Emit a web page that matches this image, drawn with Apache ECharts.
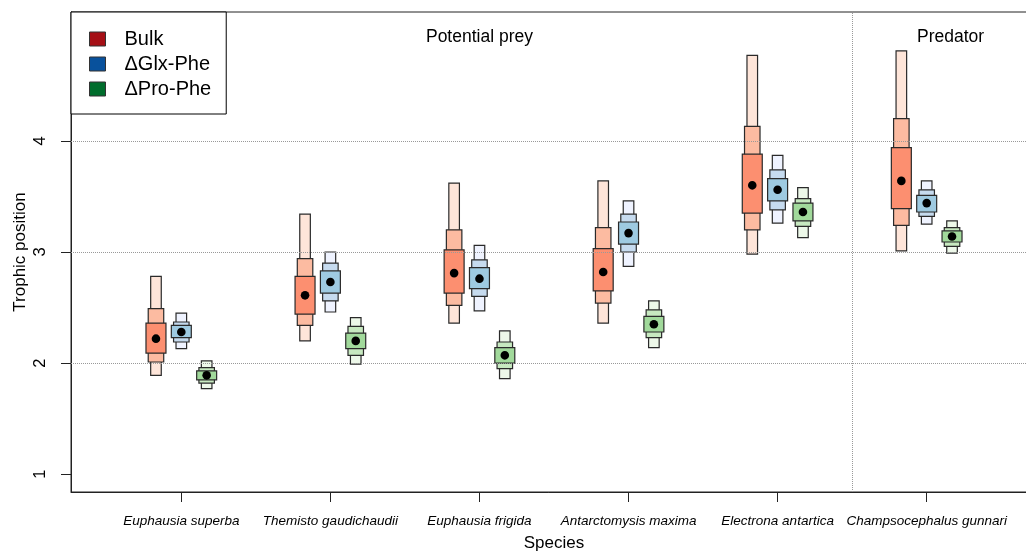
<!DOCTYPE html>
<html>
<head>
<meta charset="utf-8">
<script src="https://cdn.jsdelivr.net/npm/echarts@6/dist/echarts.min.js"></script>
<style>
  html, body { margin: 0; padding: 0; background: #fff; }
  #chart { width: 1026px; height: 552px; }
</style>
</head>
<body>
<div id="chart"></div>
<script>
// ---------------- data ----------------
const species = ['Euphausia superba', 'Themisto gaudichaudii', 'Euphausia frigida',
                 'Antarctomysis maxima', 'Electrona antartica', 'Champsocephalus gunnari'];
const methods = ['Bulk', '\u0394Glx-Phe', '\u0394Pro-Phe'];
// each row: [lo95, lo75, lo50, hi50, hi75, hi95, mode]
const bulk = [
  [1.89, 2.01, 2.09, 2.36, 2.49, 2.78, 2.22],
  [2.20, 2.34, 2.44, 2.78, 2.94, 3.34, 2.61],
  [2.36, 2.52, 2.63, 3.02, 3.20, 3.62, 2.81],
  [2.36, 2.54, 2.65, 3.03, 3.22, 3.64, 2.82],
  [2.98, 3.20, 3.35, 3.88, 4.13, 4.77, 3.60],
  [3.01, 3.24, 3.39, 3.94, 4.20, 4.81, 3.64]
];
const glx = [
  [2.13, 2.19, 2.23, 2.34, 2.37, 2.45, 2.28],
  [2.46, 2.56, 2.63, 2.83, 2.90, 3.00, 2.73],
  [2.47, 2.60, 2.67, 2.86, 2.93, 3.06, 2.76],
  [2.87, 3.00, 3.07, 3.27, 3.34, 3.46, 3.17],
  [3.26, 3.38, 3.46, 3.66, 3.74, 3.87, 3.56],
  [3.25, 3.32, 3.36, 3.51, 3.56, 3.64, 3.44]
];
const pro = [
  [1.77, 1.82, 1.85, 1.93, 1.96, 2.02, 1.89],
  [1.99, 2.07, 2.13, 2.27, 2.33, 2.41, 2.20],
  [1.86, 1.95, 2.00, 2.14, 2.19, 2.29, 2.07],
  [2.14, 2.23, 2.28, 2.42, 2.48, 2.56, 2.35],
  [3.13, 3.23, 3.28, 3.44, 3.48, 3.58, 3.36],
  [2.99, 3.05, 3.09, 3.19, 3.22, 3.28, 3.14]
];
const yTicks = [1, 2, 3, 4];
const xTicks = [1, 2, 3, 4, 5, 6];
const gridValues = [2, 3, 4];
const groupSplit = 5.5;
const groupLabels = [['Potential prey', 3, 4.93], ['Predator', 6.16, 4.93]];

// ---------------- styles ----------------
const FONT = "'Liberation Sans', Arial, Helvetica, sans-serif";
const legendColors = ['#A50F15', '#08519C', '#006D2C'];
const shades = [
  ['#FEE5D9', '#FCBBA1', '#FC8F70'],
  ['#EFF3FF', '#C6DBEF', '#9ECAE1'],
  ['#EDF8E9', '#C7E9C0', '#A1D99B']
];
const offsets = [-0.17, 0, 0.17];
const widths = [0.071, 0.104, 0.134]; // outer (95%), middle (75%), inner (50%)

function makeRender(k) {
  return function (params, api) {
    const x = api.value(0) + offsets[k];
    const ranges = [[api.value(1), api.value(6)], [api.value(2), api.value(5)], [api.value(3), api.value(4)]];
    const children = [];
    for (let j = 0; j < 3; j++) {
      const w = api.size([widths[j], 0])[0];
      const pTop = api.coord([x, ranges[j][1]]);
      const pBot = api.coord([x, ranges[j][0]]);
      children.push({
        type: 'rect',
        shape: { x: pTop[0] - w / 2, y: pTop[1], width: w, height: pBot[1] - pTop[1] },
        style: { fill: shades[k][j], stroke: '#2a2a2a', lineWidth: 1.2 }
      });
    }
    const pm = api.coord([x, api.value(7)]);
    children.push({ type: 'circle', shape: { cx: pm[0], cy: pm[1], r: 4.3 }, style: { fill: '#000' } });
    return { type: 'group', children: children };
  };
}

const allSets = [bulk, glx, pro];
const boxSeries = allSets.map((rows, k) => ({
  name: methods[k],
  type: 'custom',
  z: 3,
  itemStyle: { color: legendColors[k] },
  renderItem: makeRender(k),
  encode: { x: 0, y: [1, 6] },
  data: rows.map((r, i) => [i + 1].concat(r))
}));

const refSeries = {
  type: 'line',
  z: 1,
  data: [],
  silent: true,
  markLine: {
    silent: true,
    symbol: 'none',
    label: { show: false },
    lineStyle: { color: '#999', width: 1, type: 'dotted' },
    data: gridValues.map(v => ({ yAxis: v })).concat([{ xAxis: groupSplit }])
  },
  markPoint: {
    silent: true,
    symbol: 'rect',
    symbolSize: 1,
    itemStyle: { color: 'rgba(0,0,0,0)' },
    label: { show: true, position: 'inside', formatter: '{b}', color: '#000', fontSize: 17.5, fontFamily: FONT },
    data: groupLabels.map(g => ({ name: g[0], coord: [g[1], g[2]] }))
  }
};

const chart = echarts.init(document.getElementById('chart'), null, { renderer: 'canvas' });
chart.setOption({
  animation: false,
  backgroundColor: '#fff',
  textStyle: { fontFamily: FONT },
  grid: {
    left: 71, top: 12, width: 966, height: 480,
    outerBoundsMode: 'none', containLabel: false,
    show: true, borderColor: '#222', borderWidth: 1, backgroundColor: 'transparent'
  },
  legend: {
    data: methods,
    orient: 'vertical',
    left: 71, top: 12,
    padding: [17, 15, 15, 18],
    itemWidth: 16, itemHeight: 14, itemGap: 5,
    icon: 'rect',
    backgroundColor: '#fff',
    borderColor: '#000', borderWidth: 1, borderRadius: 0,
    selectedMode: false,
    itemStyle: { borderColor: '#333', borderWidth: 1 },
    textStyle: { fontSize: 20, color: '#000', fontFamily: FONT, padding: [0, 0, 0, 14] }
  },
  xAxis: {
    type: 'value',
    min: 0.26, max: 6.74,
    name: 'Species', nameLocation: 'middle', nameGap: 43, nameMoveOverlap: false,
    nameTextStyle: { fontSize: 17, color: '#000', fontFamily: FONT },
    splitLine: { show: false },
    axisLine: { show: true, onZero: false, lineStyle: { color: '#222', width: 1 } },
    axisTick: { show: true, customValues: xTicks, length: 10, lineStyle: { color: '#222' } },
    axisLabel: {
      customValues: xTicks, margin: 22,
      formatter: v => species[Math.round(v) - 1] || '',
      fontStyle: 'italic', fontSize: 13.5, color: '#000', fontFamily: FONT
    }
  },
  yAxis: {
    type: 'value',
    min: 0.84, max: 5.16,
    name: 'Trophic position', nameLocation: 'middle', nameGap: 42, nameMoveOverlap: false,
    nameTextStyle: { fontSize: 17, color: '#000', fontFamily: FONT },
    splitLine: { show: false },
    axisLine: { show: true, onZero: false, lineStyle: { color: '#222', width: 1 } },
    axisTick: { show: true, customValues: yTicks, length: 10, lineStyle: { color: '#222' } },
    axisLabel: { customValues: yTicks, rotate: 90, margin: 22, fontSize: 16.5, color: '#000', fontFamily: FONT }
  },
  series: [refSeries].concat(boxSeries)
});
</script>
</body>
</html>
